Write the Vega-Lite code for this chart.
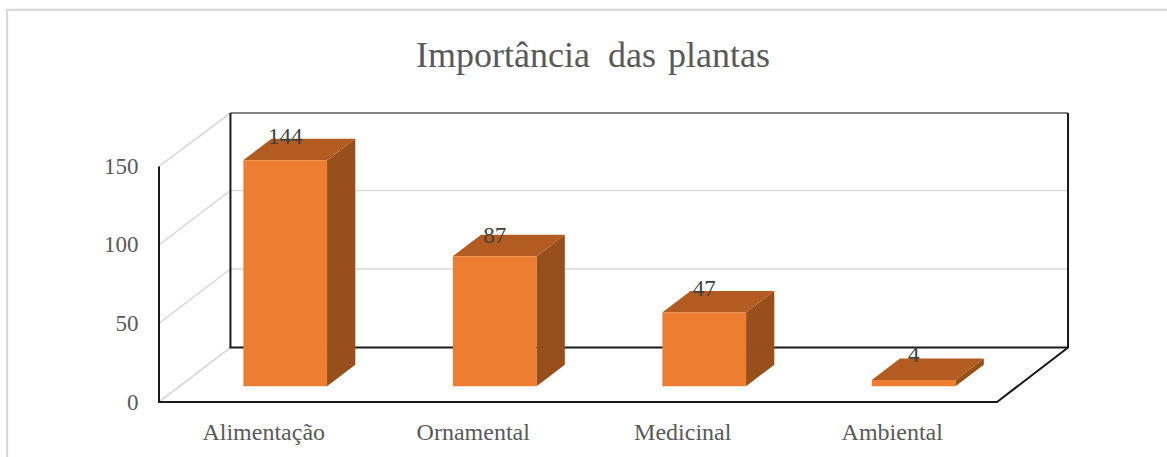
{
"$schema":"https://vega.github.io/schema/vega-lite/v6.json",
"width":838,"height":289,
"autosize":{"type":"none"},
"padding":{"left":159,"top":113,"right":170,"bottom":55},
"background":"white",
"title":{"text":"Importância\u00a0\u00a0das\u00a0\u200aplantas","font":"Liberation Serif","fontSize":36,"fontWeight":"normal","color":"#595959","anchor":"middle","dx":15,"dy":69,"offset":0},
"config":{"view":{"stroke":null}},
"datasets":{
"bars":[
{"category":"Alimentação","value":144,"height":143.9,"labelAt":143.9},
{"category":"Ornamental","value":87,"height":82.8,"labelAt":80.7},
{"category":"Medicinal","value":47,"height":47,"labelAt":47.4},
{"category":"Ambiental","value":4,"height":4,"labelAt":4.8}],
"side":[
{"category":"Alimentação","x":0.802,"y":153.9,"y2":10},{"category":"Alimentação","x":0.937,"y":167.6,"y2":23.7},
{"category":"Ornamental","x":1.802,"y":92.8,"y2":10},{"category":"Ornamental","x":1.937,"y":106.5,"y2":23.7},
{"category":"Medicinal","x":2.802,"y":57,"y2":10},{"category":"Medicinal","x":2.937,"y":70.7,"y2":23.7},
{"category":"Ambiental","x":3.802,"y":14,"y2":10},{"category":"Ambiental","x":3.937,"y":27.7,"y2":23.7}],
"top":[
{"category":"Alimentação","y":153.9,"x":0.402,"x2":0.802},{"category":"Alimentação","y":167.6,"x":0.537,"x2":0.937},
{"category":"Ornamental","y":92.8,"x":1.402,"x2":1.802},{"category":"Ornamental","y":106.5,"x":1.537,"x2":1.937},
{"category":"Medicinal","y":57,"x":2.402,"x2":2.802},{"category":"Medicinal","y":70.7,"x":2.537,"x2":2.937},
{"category":"Ambiental","y":14,"x":3.402,"x2":3.802},{"category":"Ambiental","y":27.7,"x":3.537,"x2":3.937}],
"outer":[
{"seg":"outer","step":0,"x":-0.7255,"y":-36},{"seg":"outer","step":1,"x":-0.7255,"y":249.6},{"seg":"outer","step":2,"x":4.82,"y":249.6}],
"grid":[
{"seg":"wall0","step":0,"x":0,"y":0},{"seg":"wall0","step":1,"x":0.341,"y":34.7},
{"seg":"wall50","step":0,"x":0,"y":50},{"seg":"wall50","step":1,"x":0.341,"y":84.7},{"seg":"wall50","step":2,"x":4.339,"y":84.7},
{"seg":"wall100","step":0,"x":0,"y":100},{"seg":"wall100","step":1,"x":0.341,"y":134.7},{"seg":"wall100","step":2,"x":4.339,"y":134.7},
{"seg":"wall150","step":0,"x":0,"y":150},{"seg":"wall150","step":1,"x":0.341,"y":184}],
"backTop":[
{"seg":"top","step":0,"x":0.341,"y":184},{"seg":"top","step":1,"x":4.339,"y":184}],
"edges":[
{"seg":"leftFront","step":0,"x":0,"y":150},{"seg":"leftFront","step":1,"x":0,"y":0},{"seg":"leftFront","step":2,"x":4,"y":0},{"seg":"leftFront","step":3,"x":4.339,"y":34.7},{"seg":"leftFront","step":4,"x":4.339,"y":184},
{"seg":"back","step":0,"x":0.341,"y":184},{"seg":"back","step":1,"x":0.341,"y":34.7},{"seg":"back","step":2,"x":4.339,"y":34.7}]
},
"layer":[
{"data":{"name":"outer"},"mark":{"type":"line","stroke":"#d9d9d9","strokeWidth":2.2},
"encoding":{"x":{"field":"x","type":"quantitative","axis":null,"scale":{"domain":[0,4],"nice":false,"zero":false}},"y":{"field":"y","type":"quantitative","title":null,"scale":{"domain":[0,184],"nice":false},"axis":{"title":null,"values":[0,50,100,150],"ticks":false,"domain":false,"grid":false,"labelFont":"Liberation Serif","labelFontSize":23,"labelColor":"#595959","labelPadding":21}},"detail":{"field":"seg"},"order":{"field":"step"}}},
{"data":{"name":"grid"},"mark":{"type":"line","stroke":"#d9d9d9","strokeWidth":1.6},
"encoding":{"x":{"field":"x","type":"quantitative","axis":null,"scale":{"domain":[0,4],"nice":false,"zero":false}},"y":{"field":"y","type":"quantitative","title":null,"scale":{"domain":[0,184],"nice":false},"axis":{"title":null,"values":[0,50,100,150],"ticks":false,"domain":false,"grid":false,"labelFont":"Liberation Serif","labelFontSize":23,"labelColor":"#595959","labelPadding":21}},"detail":{"field":"seg"},"order":{"field":"step"}}},
{"data":{"name":"backTop"},"mark":{"type":"line","stroke":"#5a5a5a","strokeWidth":1.4},
"encoding":{"x":{"field":"x","type":"quantitative","axis":null,"scale":{"domain":[0,4],"nice":false,"zero":false}},"y":{"field":"y","type":"quantitative","title":null,"scale":{"domain":[0,184],"nice":false},"axis":{"title":null,"values":[0,50,100,150],"ticks":false,"domain":false,"grid":false,"labelFont":"Liberation Serif","labelFontSize":23,"labelColor":"#595959","labelPadding":21}},"detail":{"field":"seg"},"order":{"field":"step"}}},
{"data":{"name":"edges"},"mark":{"type":"line","stroke":"#1a1a1a","strokeWidth":2},
"encoding":{"x":{"field":"x","type":"quantitative","axis":null,"scale":{"domain":[0,4],"nice":false,"zero":false}},"y":{"field":"y","type":"quantitative","title":null,"scale":{"domain":[0,184],"nice":false},"axis":{"title":null,"values":[0,50,100,150],"ticks":false,"domain":false,"grid":false,"labelFont":"Liberation Serif","labelFontSize":23,"labelColor":"#595959","labelPadding":21}},"detail":{"field":"seg"},"order":{"field":"step"}}},
{"data":{"name":"side"},"mark":{"type":"area","color":"#974F1B","orient":"vertical"},
"encoding":{"x":{"field":"x","type":"quantitative","axis":null,"scale":{"domain":[0,4],"nice":false,"zero":false}},"y":{"field":"y","type":"quantitative","title":null,"scale":{"domain":[0,184],"nice":false},"axis":{"title":null,"values":[0,50,100,150],"ticks":false,"domain":false,"grid":false,"labelFont":"Liberation Serif","labelFontSize":23,"labelColor":"#595959","labelPadding":21}},"y2":{"field":"y2"},"detail":{"field":"category"}}},
{"data":{"name":"top"},"mark":{"type":"area","color":"#B25C21","orient":"horizontal"},
"encoding":{"y":{"field":"y","type":"quantitative","title":null,"scale":{"domain":[0,184],"nice":false},"axis":{"title":null,"values":[0,50,100,150],"ticks":false,"domain":false,"grid":false,"labelFont":"Liberation Serif","labelFontSize":23,"labelColor":"#595959","labelPadding":21}},"x":{"field":"x","type":"quantitative","axis":null,"scale":{"domain":[0,4],"nice":false,"zero":false}},"x2":{"field":"x2"},"detail":{"field":"category"}}},
{"data":{"name":"bars"},"mark":{"type":"bar","color":"#ED7D31","xOffset":21.5,"x2Offset":21.5,"yOffset":-15.7,"y2Offset":-15.7},
"encoding":{
"x":{"field":"category","type":"nominal","sort":null,"scale":{"paddingInner":0.6,"paddingOuter":0.3},"axis":{"title":null,"labelAngle":0,"ticks":false,"domain":false,"grid":false,"labelFont":"Liberation Serif","labelFontSize":24,"labelColor":"#595959","labelPadding":18,"labelBaseline":"top"}},
"y":{"field":"height","type":"quantitative","title":null,"scale":{"domain":[0,184],"nice":false},"axis":{"title":null,"values":[0,50,100,150],"ticks":false,"domain":false,"grid":false,"labelFont":"Liberation Serif","labelFontSize":23,"labelColor":"#595959","labelPadding":21}},
"y2":{"datum":0}}},
{"data":{"name":"bars"},"mark":{"type":"text","font":"Liberation Serif","fontSize":23,"color":"#404040","xOffset":21.5,"yOffset":-39,"baseline":"middle"},
"encoding":{
"x":{"field":"category","type":"nominal","sort":null,"axis":null,"scale":{"paddingInner":0.6,"paddingOuter":0.3}},
"y":{"field":"labelAt","type":"quantitative","title":null,"scale":{"domain":[0,184],"nice":false},"axis":{"title":null,"values":[0,50,100,150],"ticks":false,"domain":false,"grid":false,"labelFont":"Liberation Serif","labelFontSize":23,"labelColor":"#595959","labelPadding":21}},
"text":{"field":"value","type":"quantitative"}}}
],
"resolve":{"scale":{"x":"independent"},"axis":{"x":"independent"}}
}
